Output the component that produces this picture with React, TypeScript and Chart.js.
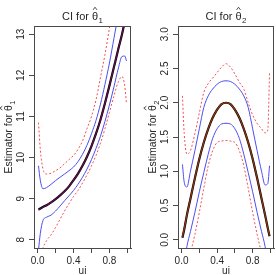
import { useEffect, useRef } from "react";
import { Chart, registerables } from "chart.js";

Chart.register(...registerables);

// grid of u values shared by every curve
const U = [0.01, 0.03, 0.06, 0.1, 0.15, 0.2, 0.25, 0.3, 0.35, 0.4, 0.45, 0.5, 0.55, 0.6, 0.65, 0.7, 0.75, 0.8, 0.85, 0.9, 0.94, 0.97, 0.99];

// theta_1(u): true curve, mean estimate, pointwise band and confidence limits
const THETA1_TRUE = [8.74, 8.76, 8.8, 8.84, 8.91, 8.99, 9.08, 9.18, 9.3, 9.45, 9.61, 9.8, 10.02, 10.28, 10.58, 10.92, 11.32, 11.75, 12.2, 12.65, 13.0, 13.3, 13.5];
const THETA1_EST = [8.72, 8.75, 8.79, 8.84, 8.91, 8.99, 9.08, 9.18, 9.3, 9.45, 9.61, 9.8, 10.02, 10.28, 10.58, 10.92, 11.32, 11.75, 12.2, 12.65, 13.0, 13.3, 13.5];
const THETA1_BAND_HI = [9.8, 9.45, 9.24, 9.27, 9.35, 9.44, 9.52, 9.6, 9.68, 9.77, 9.9, 10.08, 10.3, 10.58, 10.9, 11.3, 11.78, 12.3, 12.9, 13.5, 14.0, 14.4, 14.7];
const THETA1_BAND_LO = [7.75, 8.15, 8.47, 8.55, 8.6, 8.7, 8.82, 8.95, 9.07, 9.2, 9.35, 9.52, 9.72, 9.95, 10.22, 10.52, 10.88, 11.28, 11.72, 12.18, 12.46, 12.47, 12.35];
const THETA1_CI_HI = [10.85, 10.2, 9.72, 9.6, 9.62, 9.68, 9.75, 9.85, 9.95, 10.05, 10.2, 10.4, 10.7, 11.0, 11.4, 11.95, 12.5, 13.15, 13.8, 14.4, 14.8, 15.1, 15.3];
const THETA1_CI_LO = [7.0, 7.55, 7.8, 7.98, 8.12, 8.3, 8.5, 8.7, 8.88, 9.05, 9.2, 9.38, 9.58, 9.8, 10.05, 10.35, 10.7, 11.1, 11.5, 11.85, 11.97, 11.75, 11.3];

// theta_2(u)
const THETA2_TRUE = [0.03, 0.15, 0.36, 0.6, 0.9, 1.18, 1.42, 1.62, 1.78, 1.9, 1.98, 2.0, 1.98, 1.9, 1.78, 1.62, 1.42, 1.18, 0.9, 0.6, 0.36, 0.17, 0.05];
const THETA2_EST = [0.04, 0.16, 0.36, 0.6, 0.9, 1.18, 1.42, 1.62, 1.78, 1.9, 1.98, 2.0, 1.98, 1.9, 1.78, 1.62, 1.42, 1.18, 0.9, 0.6, 0.36, 0.17, 0.06];
const THETA2_BAND_HI = [1.1, 0.84, 0.77, 1.0, 1.3, 1.62, 1.93, 2.1, 2.2, 2.27, 2.31, 2.32, 2.31, 2.27, 2.2, 2.1, 1.93, 1.62, 1.3, 1.0, 0.8, 0.82, 1.08];
const THETA2_BAND_LO = [-0.6, -0.35, -0.1, 0.12, 0.4, 0.7, 0.98, 1.25, 1.48, 1.62, 1.69, 1.7, 1.69, 1.62, 1.48, 1.25, 0.98, 0.7, 0.4, 0.12, -0.1, -0.35, -0.6];
const THETA2_CI_HI = [2.1, 1.55, 1.25, 1.3, 1.55, 1.85, 2.15, 2.28, 2.36, 2.44, 2.52, 2.57, 2.52, 2.42, 2.3, 2.2, 2.0, 1.82, 1.7, 1.62, 1.56, 1.6, 2.45];
const THETA2_CI_LO = [-0.9, -0.7, -0.45, -0.2, 0.08, 0.4, 0.75, 1.08, 1.3, 1.42, 1.44, 1.45, 1.44, 1.42, 1.3, 1.08, 0.75, 0.4, 0.08, -0.2, -0.45, -0.7, -0.9];

// axes
const X_TICKS = [0, 0.2, 0.4, 0.6, 0.8, 1.0];
const X_LABELED = [0, 0.4, 0.8];
const Y1_TICKS = [8, 9, 10, 11, 12, 13];
const Y2_TICKS = [0, 0.5, 1, 1.5, 2, 2.5, 3];

const FONT = "'Liberation Sans', Arial, Helvetica, sans-serif";
const INK = "#262626";
const AXIS = "#4a4a4a";
const BLUE = "#4d4df0";
const RED = "#f05050";

const W = 138;
const H = 275;

type PanelSpec = {
  sub: string;
  yMin: number;
  yMax: number;
  yTicks: number[];
  yDigits: number;
  axisWidth: number;
  padRight: number;
  truth: number[];
  est: number[];
  estColor: string;
  bandHi: number[];
  bandLo: number[];
  ciHi: number[];
  ciLo: number[];
};

function pts(ys: number[]) {
  return U.map((u, i) => ({ x: u, y: ys[i] }));
}

// "prefix θ̂ sub" with a hat over theta and a lowered index
function drawHatTheta(ctx: CanvasRenderingContext2D, prefix: string, sub: string, cx: number, by: number, size: number) {
  const subSize = size * 0.72;
  ctx.font = `${size}px ${FONT}`;
  const wP = ctx.measureText(prefix).width;
  const wT = ctx.measureText("θ").width;
  ctx.font = `${subSize}px ${FONT}`;
  const wS = ctx.measureText(sub).width;
  let x = cx - (wP + wT + wS + 0.5) / 2;
  ctx.textAlign = "left";
  ctx.textBaseline = "alphabetic";
  ctx.font = `${size}px ${FONT}`;
  ctx.fillText(prefix, x, by);
  x += wP;
  ctx.fillText("θ", x, by);
  const hx = x + wT / 2;
  const hy = by - size * 0.92;
  ctx.beginPath();
  ctx.moveTo(hx - wT * 0.32, hy);
  ctx.lineTo(hx, hy - size * 0.24);
  ctx.lineTo(hx + wT * 0.32, hy);
  ctx.lineWidth = 0.8;
  ctx.strokeStyle = INK;
  ctx.stroke();
  x += wT + 0.5;
  ctx.font = `${subSize}px ${FONT}`;
  ctx.fillText(sub, x, by + size * 0.25);
}

function makeDecor(spec: PanelSpec) {
  return {
    id: "decor",
    afterDraw(chart: Chart) {
      const ctx = chart.ctx;
      const a = chart.chartArea;
      const ys = chart.scales.y;
      ctx.save();
      // frame around the plotting region
      ctx.strokeStyle = AXIS;
      ctx.lineWidth = 1;
      ctx.strokeRect(Math.round(a.left) + 0.5, Math.round(a.top) + 0.5, Math.round(a.right - a.left) - 1, Math.round(a.bottom - a.top));
      // y tick labels, parallel to the axis
      ctx.fillStyle = INK;
      ctx.font = `10px ${FONT}`;
      ctx.textAlign = "center";
      ctx.textBaseline = "middle";
      for (const t of ys.ticks) {
        const py = ys.getPixelForValue(t.value);
        ctx.save();
        ctx.translate(a.left - 13, py);
        ctx.rotate(-Math.PI / 2);
        ctx.fillText(t.value.toFixed(spec.yDigits), 0, 0);
        ctx.restore();
      }
      // panel title
      drawHatTheta(ctx, "CI for ", spec.sub, (a.left + a.right) / 2, 20, 11);
      // y axis title
      ctx.save();
      ctx.translate(a.left - 22, (a.top + a.bottom) / 2);
      ctx.rotate(-Math.PI / 2);
      drawHatTheta(ctx, "Estimator for ", spec.sub, 0, 0, 10.5);
      ctx.restore();
      // x axis title
      ctx.font = `10px ${FONT}`;
      ctx.textAlign = "center";
      ctx.textBaseline = "middle";
      ctx.fillText("ui", (a.left + a.right) / 2, 271);
      ctx.restore();
    },
  };
}

function Panel({ spec, left }: { spec: PanelSpec; left: number }) {
  const ref = useRef<HTMLCanvasElement | null>(null);

  useEffect(() => {
    const canvas = ref.current;
    if (!canvas) return;
    const line = (data: number[], color: string, width: number, dash: number[] = []) => ({
      data: pts(data),
      borderColor: color,
      borderWidth: width,
      borderDash: dash,
      pointRadius: 0,
      fill: false,
      cubicInterpolationMode: "monotone",
    });
    // Chart.js paints the first dataset last, so the estimate sits on top
    const chart = new Chart(canvas, {
      type: "line",
      data: {
        datasets: [
          line(spec.est, spec.estColor, 1.3),
          line(spec.truth, "#000000", 2.2),
          line(spec.bandHi, BLUE, 1),
          line(spec.bandLo, BLUE, 1),
          line(spec.ciHi, RED, 1, [2, 2]),
          line(spec.ciLo, RED, 1, [2, 2]),
        ],
      },
      options: {
        animation: false,
        responsive: false,
        maintainAspectRatio: false,
        devicePixelRatio: 1,
        layout: { padding: { top: 26, right: spec.padRight, left: 0, bottom: 0 } },
        plugins: { legend: { display: false }, tooltip: { enabled: false }, title: { display: false } },
        scales: {
          x: {
            type: "linear",
            min: -0.04,
            max: 1.04,
            afterBuildTicks: (s: any) => {
              s.ticks = X_TICKS.map((v) => ({ value: v }));
            },
            afterFit: (s: any) => {
              s.height = H - 248;
            },
            ticks: {
              autoSkip: false,
              maxRotation: 0,
              minRotation: 0,
              padding: 2,
              color: INK,
              font: { family: FONT, size: 10 },
              callback: (v: any) => (X_LABELED.some((t) => Math.abs(t - v) < 1e-9) ? Number(v).toFixed(1) : ""),
            },
            grid: { display: true, drawOnChartArea: false, drawTicks: true, tickLength: 5, color: AXIS },
            border: { display: true, color: AXIS },
          },
          y: {
            type: "linear",
            min: spec.yMin,
            max: spec.yMax,
            afterBuildTicks: (s: any) => {
              s.ticks = spec.yTicks.map((v) => ({ value: v }));
            },
            afterFit: (s: any) => {
              s.width = spec.axisWidth;
            },
            ticks: { display: false },
            grid: { display: true, drawOnChartArea: false, drawTicks: true, tickLength: 5, color: AXIS },
            border: { display: true, color: AXIS },
          },
        },
      },
      plugins: [makeDecor(spec)],
    } as any);
    return () => chart.destroy();
  }, [spec]);

  return (
    <canvas
      ref={ref}
      width={W}
      height={H}
      style={{ position: "absolute", left, top: 0, width: W, height: H }}
    />
  );
}

const PANEL1: PanelSpec = {
  sub: "1",
  yMin: 7.8,
  yMax: 13.2,
  yTicks: Y1_TICKS,
  yDigits: 0,
  axisWidth: 34,
  padRight: 7,
  truth: THETA1_TRUE,
  est: THETA1_EST,
  estColor: "#5a1048",
  bandHi: THETA1_BAND_HI,
  bandLo: THETA1_BAND_LO,
  ciHi: THETA1_CI_HI,
  ciLo: THETA1_CI_LO,
};

const PANEL2: PanelSpec = {
  sub: "2",
  yMin: -0.12,
  yMax: 3.12,
  yTicks: Y2_TICKS,
  yDigits: 1,
  axisWidth: 40,
  padRight: 2,
  truth: THETA2_TRUE,
  est: THETA2_EST,
  estColor: "#8a3410",
  bandHi: THETA2_BAND_HI,
  bandLo: THETA2_BAND_LO,
  ciHi: THETA2_CI_HI,
  ciLo: THETA2_CI_LO,
};

export default function App() {
  return (
    <div style={{ position: "fixed", left: 0, top: 0, width: 276, height: 275, background: "#ffffff", overflow: "hidden" }}>
      <Panel spec={PANEL1} left={0} />
      <Panel spec={PANEL2} left={138} />
    </div>
  );
}
